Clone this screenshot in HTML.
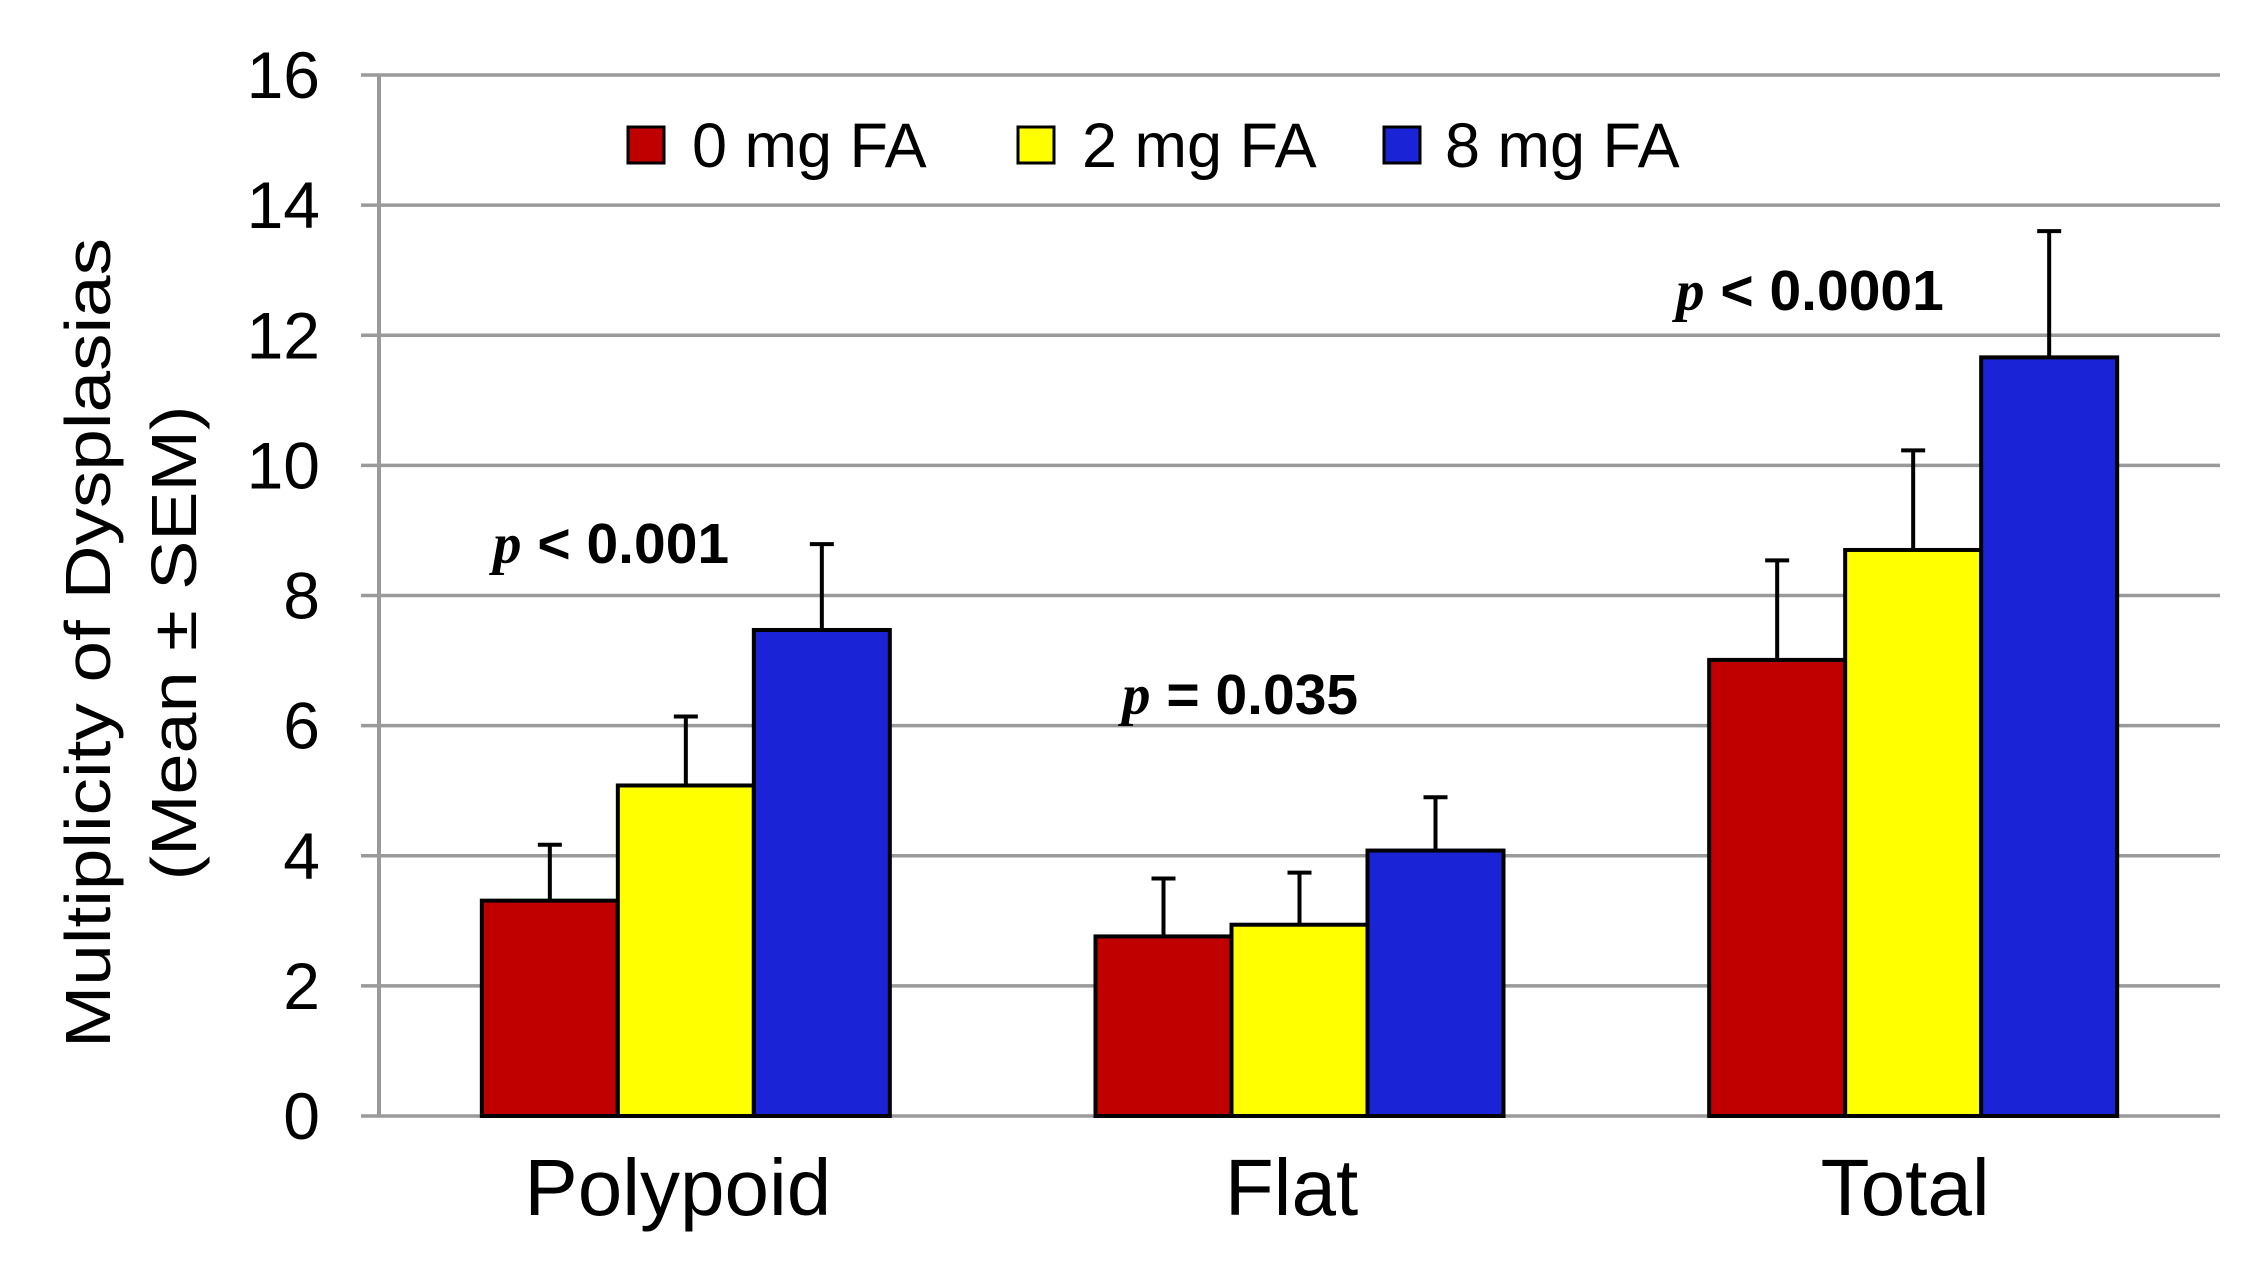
<!DOCTYPE html>
<html><head><meta charset="utf-8"><style>
html,body{margin:0;padding:0;background:#fff;}
svg{display:block;font-family:"Liberation Sans",Arial,sans-serif;}
</style></head><body>
<svg id="chart" width="2254" height="1267" viewBox="0 0 2254 1267" xmlns="http://www.w3.org/2000/svg">
<rect width="2254" height="1267" fill="#fff"/>
<g id="grid"></g>
<g id="yticks"></g>
<g id="bars"></g>
<g id="xlabels"></g>
<g font-size="64" fill="#000">
<text transform="translate(110,643) rotate(-90)" text-anchor="middle" textLength="810" lengthAdjust="spacingAndGlyphs">Multiplicity of Dysplasias</text>
<text transform="translate(196,643) rotate(-90)" text-anchor="middle" textLength="475" lengthAdjust="spacingAndGlyphs">(Mean ± SEM)</text>
</g>
<g font-size="63">
<g><rect x="628" y="127" width="36" height="36" fill="#c00000" stroke="#000" stroke-width="3"/><text x="692" y="167">0 mg FA</text></g>
<g><rect x="1018" y="127" width="36" height="36" fill="#ffff00" stroke="#000" stroke-width="3"/><text x="1082" y="167">2 mg FA</text></g>
<g><rect x="1384" y="127" width="36" height="36" fill="#1a23d6" stroke="#000" stroke-width="3"/><text x="1445" y="167">8 mg FA</text></g>
</g>
<g font-size="57" font-weight="bold">
<text x="493" y="563"><tspan font-family="Liberation Serif,serif" font-style="italic">p</tspan> &lt; 0.001</text>
<text x="1122" y="714"><tspan font-family="Liberation Serif,serif" font-style="italic">p</tspan> = 0.035</text>
<text x="1676" y="310"><tspan font-family="Liberation Serif,serif" font-style="italic">p</tspan> &lt; 0.0001</text>
</g>
</svg>
<script>
const categories = ["Polypoid", "Flat", "Total"];
const seriesNames = ["0 mg FA", "2 mg FA", "8 mg FA"];
const mg0 = [3.31, 2.76, 7.01];
const mg2 = [5.08, 2.94, 8.70];
const mg8 = [7.47, 4.08, 11.66];
const err0 = [0.86, 0.89, 1.53];
const err2 = [1.06, 0.80, 1.53];
const err8 = [1.32, 0.82, 1.94];
const yTicks = [0, 2, 4, 6, 8, 10, 12, 14, 16];

const NS = "http://www.w3.org/2000/svg";
const X0 = 379, X1 = 2220, Y0 = 1116, Y1 = 75, YMAX = 16;
const y = v => Y0 - (v / YMAX) * (Y0 - Y1);
const catW = (X1 - X0) / categories.length;
const barW = 136;
const xCenter = i => X0 + catW * (i + 0.5);
const colors = ["#c00000", "#ffff00", "#1a23d6"];
const series = [mg0, mg2, mg8];
const errs = [err0, err2, err8];
function mk(tag, attrs, parent) {
  const e = document.createElementNS(NS, tag);
  for (const k in attrs) e.setAttribute(k, attrs[k]);
  parent.appendChild(e);
  return e;
}
const grid = document.getElementById("grid");
const yt = document.getElementById("yticks");
yTicks.forEach(t => {
  const l = mk("line", {x1: 361, x2: X1, y1: y(t), y2: y(t), stroke: "#9a9a9a", "stroke-width": 3.5}, grid);
  
  
  const tx = mk("text", {x: 320, y: y(t) + 23, "text-anchor": "end", "font-size": 66}, yt);
  tx.textContent = t;
  
  
});
const ax = mk("line", {x1: X0, x2: X0, y1: Y1 - 1, y2: Y0 + 1, stroke: "#9a9a9a", "stroke-width": 4}, grid);



const bars = document.getElementById("bars");
categories.forEach((c, i) => {
  series.forEach((s, j) => {
    const bx = xCenter(i) + (j - 1.5) * barW;
    const r = mk("rect", {x: bx, y: y(s[i]), width: barW, height: Y0 - y(s[i]), fill: colors[j], stroke: "#000", "stroke-width": 4}, bars);
    
    
    const cx = bx + barW / 2, top = y(s[i] + errs[j][i]);
    const eb = mk("path", {d: `M${cx},${y(s[i])}V${top}M${cx - 12},${top}H${cx + 12}`, stroke: "#000", "stroke-width": 4, fill: "none"}, bars);
    
    
  });
  const lab = mk("text", {x: xCenter(i) - 8, y: 1215, "text-anchor": "middle", "font-size": 80}, document.getElementById("xlabels"));
  lab.textContent = c;
  
  
});
</script>
</body></html>
